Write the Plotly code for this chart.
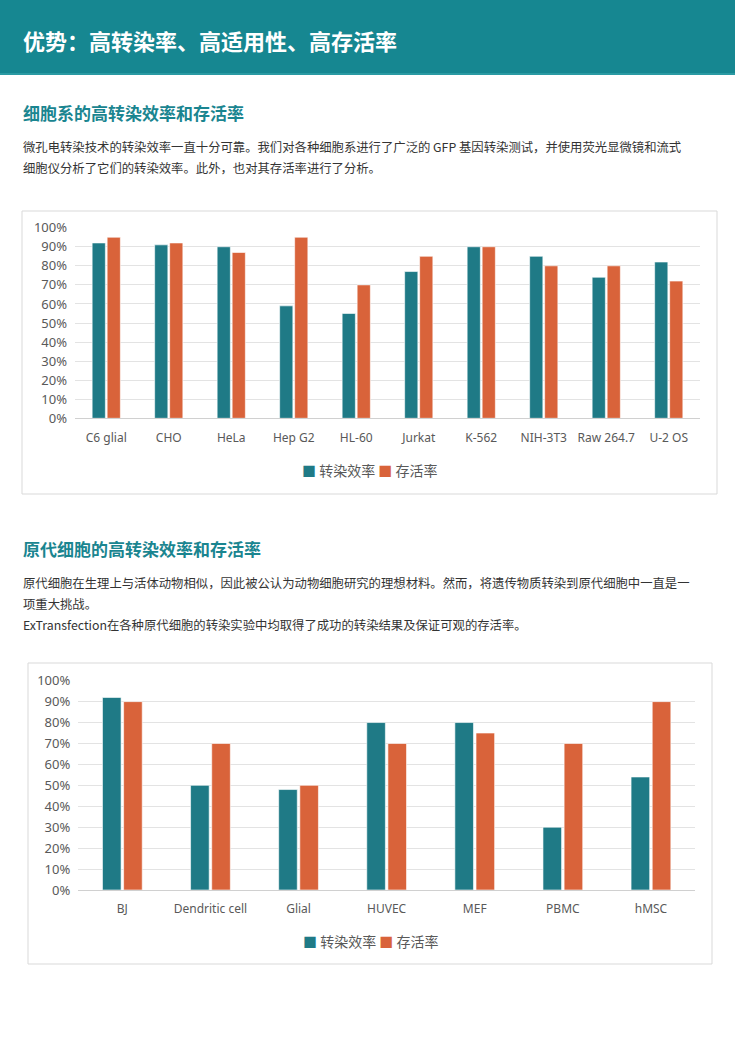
import plotly.graph_objects as go

W, H = 735, 1039

# chart 1: cell lines
lines_cats = ["C6 glial", "CHO", "HeLa", "Hep G2", "HL-60", "Jurkat", "K-562", "NIH-3T3", "Raw 264.7", "U-2 OS"]
lines_eff = [0.92, 0.91, 0.90, 0.59, 0.55, 0.77, 0.90, 0.85, 0.74, 0.82]
lines_via = [0.95, 0.92, 0.87, 0.95, 0.70, 0.85, 0.90, 0.80, 0.80, 0.72]

# chart 2: primary cells
prim_cats = ["BJ", "Dendritic cell", "Glial", "HUVEC", "MEF", "PBMC", "hMSC"]
prim_eff = [0.92, 0.50, 0.48, 0.80, 0.80, 0.30, 0.54]
prim_via = [0.90, 0.70, 0.50, 0.70, 0.75, 0.70, 0.90]

series_names = ["转染效率", "存活率"]

teal = "#1f7a86"
orange = "#d9633a"
head_teal = "#168791"
font_cjk = "Noto Sans CJK SC"
grey_txt = "#595959"


def py(v):
    # pixel from top -> paper y
    return 1 - v / H


def px(v):
    return v / W


fig = go.Figure()

for vals, col, name in [(lines_eff, teal, series_names[0]), (lines_via, orange, series_names[1])]:
    fig.add_trace(go.Bar(x=lines_cats, y=vals, name=name, marker_color=col,
                         marker_line=dict(color="rgba(255,255,255,0.6)", width=1),
                         xaxis="x", yaxis="y", showlegend=False))

for vals, col, name in [(prim_eff, teal, series_names[0]), (prim_via, orange, series_names[1])]:
    fig.add_trace(go.Bar(x=prim_cats, y=vals, name=name, marker_color=col,
                         marker_line=dict(color="rgba(255,255,255,0.6)", width=1),
                         xaxis="x2", yaxis="y2", showlegend=False))

yax = dict(range=[0, 1], dtick=0.1, tickformat=".0%", showgrid=True, gridcolor="#e3e3e3",
           gridwidth=1, zeroline=False, ticks="", ticklabelstandoff=7, automargin=False,
           tickfont=dict(family="Noto Sans", size=13, color=grey_txt), fixedrange=True)
xax = dict(showgrid=False, showline=True, linecolor="#d0d0d0", linewidth=1, ticks="",
           ticklabelstandoff=8, automargin=False,
           tickfont=dict(family="Noto Sans", size=12, color=grey_txt))

fig.update_layout(
    width=W, height=H,
    margin=dict(l=0, r=0, t=0, b=0, pad=0, autoexpand=False),
    paper_bgcolor="white", plot_bgcolor="white",
    barmode="group", bargap=0.52, bargroupgap=0.12,
    xaxis=dict(xax, domain=[px(75), px(700)], anchor="y"),
    yaxis=dict(yax, domain=[py(418.3), py(227.7)], anchor="x"),
    xaxis2=dict(xax, domain=[px(78.3), px(695)], anchor="y2"),
    yaxis2=dict(yax, domain=[py(890), py(680.7)], anchor="x2"),
)

# header band and chart frames
shapes = [
    dict(type="rect", xref="paper", yref="paper", x0=0, x1=1, y0=py(75), y1=1,
         fillcolor=head_teal, line=dict(width=0), layer="below"),
    dict(type="line", xref="paper", yref="paper", x0=0, x1=1, y0=py(74), y1=py(74),
         line=dict(color="#2a9aa3", width=2)),
    dict(type="rect", xref="paper", yref="paper", x0=px(22), x1=px(717), y0=py(494), y1=py(211),
         line=dict(color="#d9d9d9", width=1), fillcolor="rgba(0,0,0,0)", layer="below"),
    dict(type="rect", xref="paper", yref="paper", x0=px(28), x1=px(712), y0=py(964), y1=py(663),
         line=dict(color="#d9d9d9", width=1), fillcolor="rgba(0,0,0,0)", layer="below"),
]
fig.update_layout(shapes=shapes)

texts = [
    ("优势：高转染率、高适用性、高存活率", 40, 22, "white", True),
    ("细胞系的高转染效率和存活率", 112, 17, "#1a8590", True),
    ("微孔电转染技术的转染效率一直十分可靠。我们对各种细胞系进行了广泛的 GFP 基因转染测试，并使用荧光显微镜和流式", 147, 12.35, "#333333", False),
    ("细胞仪分析了它们的转染效率。此外，也对其存活率进行了分析。", 168, 12.35, "#333333", False),
    ("原代细胞的高转染效率和存活率", 548, 17, "#1a8590", True),
    ("原代细胞在生理上与活体动物相似，因此被公认为动物细胞研究的理想材料。然而，将遗传物质转染到原代细胞中一直是一", 583, 12.35, "#333333", False),
    ("项重大挑战。", 604, 12.35, "#333333", False),
    ("ExTransfection在各种原代细胞的转染实验中均取得了成功的转染结果及保证可观的存活率。", 625, 12.35, "#333333", False),
]
for txt, ypix, size, col, bold in texts:
    fig.add_annotation(text=f"<b>{txt}</b>" if bold else txt, xref="paper", yref="paper",
                       x=px(21), y=py(ypix), xanchor="left", yanchor="middle", showarrow=False,
                       font=dict(family=font_cjk, size=size, color=col))

# legends drawn as text, one per chart
legend_txt = (f"<span style='color:{teal}'>■</span> {series_names[0]} "
              f"<span style='color:{orange}'>■</span> {series_names[1]}")
for ypix, xc in [(470, 369), (941, 370)]:
    fig.add_annotation(text=legend_txt, xref="paper", yref="paper", x=px(xc), y=py(ypix),
                       xanchor="center", yanchor="middle", showarrow=False,
                       font=dict(family=font_cjk, size=14, color=grey_txt))

# no page margin, so the figure sits at the top-left corner
fig.write_html("out.html", config={"displayModeBar": False},
               post_script="document.body.style.margin='0';")
